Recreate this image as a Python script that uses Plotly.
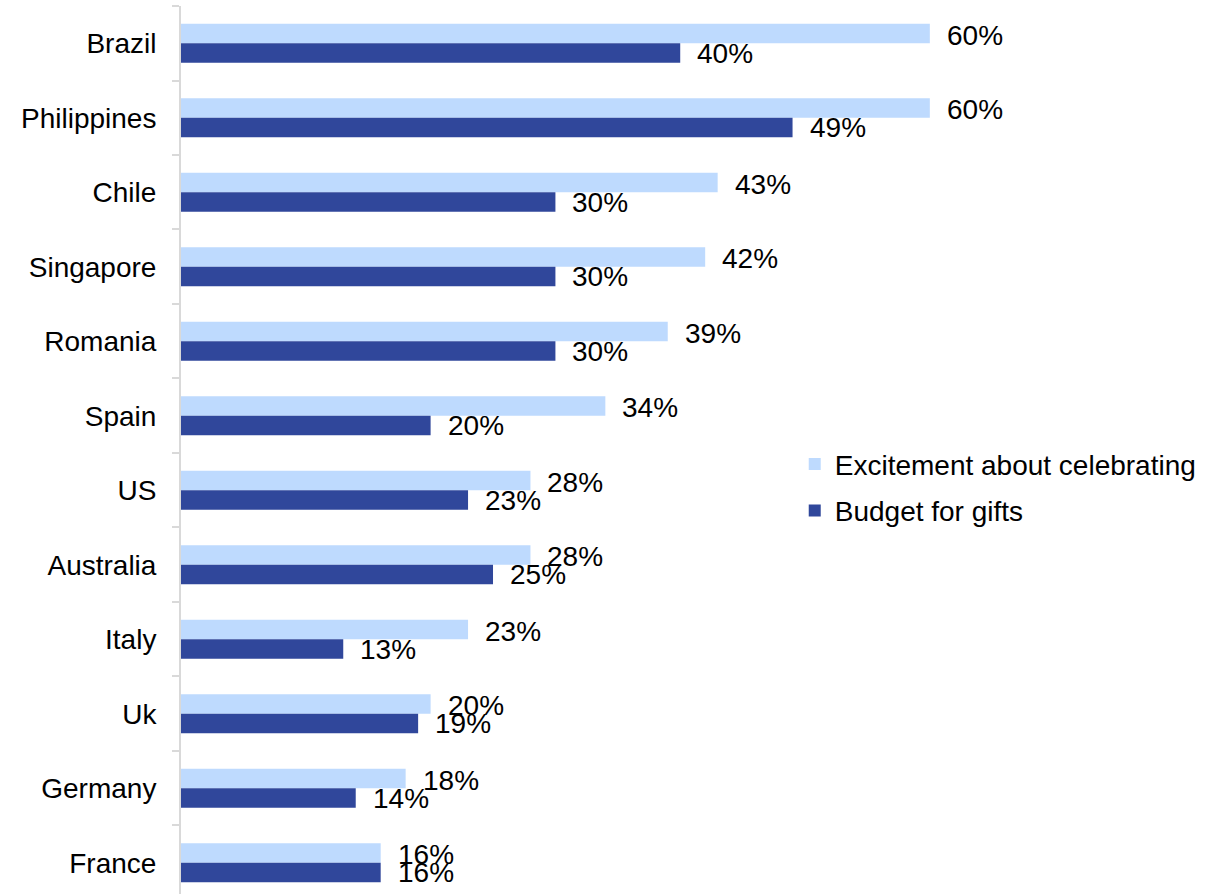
import plotly.graph_objects as go

countries = ["Brazil", "Philippines", "Chile", "Singapore", "Romania", "Spain",
             "US", "Australia", "Italy", "Uk", "Germany", "France"]
excitement = [60, 60, 43, 42, 39, 34, 28, 28, 23, 20, 18, 16]
budget = [40, 49, 30, 30, 30, 20, 23, 25, 13, 19, 14, 16]

series_names = ["Excitement about celebrating", "Budget for gifts"]
light_blue = "#BEDAFE"
dark_blue = "#30479B"
font_family = "Liberation Sans, Arial, sans-serif"
font_size = 28

fig = go.Figure()
fig.add_trace(go.Bar(y=countries, x=excitement, orientation="h",
                     name=series_names[0], marker_color=light_blue,
                     marker_line_width=0, legendgroup="a"))
fig.add_trace(go.Bar(y=countries, x=budget, orientation="h",
                     name=series_names[1], marker_color=dark_blue,
                     marker_line_width=0, legendgroup="b"))

# value labels just past the end of each bar
annotations = []
for c, v in zip(countries, excitement):
    annotations.append(dict(x=v, y=c, text=f"{v}%", showarrow=False,
                            xanchor="left", yanchor="middle", xshift=15, yshift=8,
                            font=dict(size=font_size, color="black", family=font_family)))
for c, v in zip(countries, budget):
    annotations.append(dict(x=v, y=c, text=f"{v}%", showarrow=False,
                            xanchor="left", yanchor="middle", xshift=15, yshift=-10,
                            font=dict(size=font_size, color="black", family=font_family)))

fig.update_layout(
    width=1223, height=894,
    margin=dict(l=181, r=0, t=6, b=0),
    paper_bgcolor="white", plot_bgcolor="white",
    barmode="group", bargap=0.477, bargroupgap=0,
    font=dict(family=font_family, size=font_size, color="black"),
    annotations=annotations,
    showlegend=True,
    legend=dict(x=0.589, y=0.512, xanchor="left", yanchor="top",
                bgcolor="rgba(0,0,0,0)", traceorder="grouped", tracegroupgap=7,
                font=dict(size=font_size, family=font_family, color="black"),
                itemwidth=30),
    xaxis=dict(range=[0, 83.49], visible=False, showgrid=False, zeroline=False),
    yaxis=dict(type="category", categoryorder="array", categoryarray=countries,
               range=[11.42, -0.5], showline=True, linecolor="#D9D9D9", linewidth=2,
               ticks="outside", tickson="boundaries", ticklen=7, tickwidth=2,
               tickcolor="#D9D9D9", showgrid=False, zeroline=False,
               ticklabelstandoff=17,
               tickfont=dict(size=font_size, family=font_family, color="black")),
)

fig.write_html("out.html")
